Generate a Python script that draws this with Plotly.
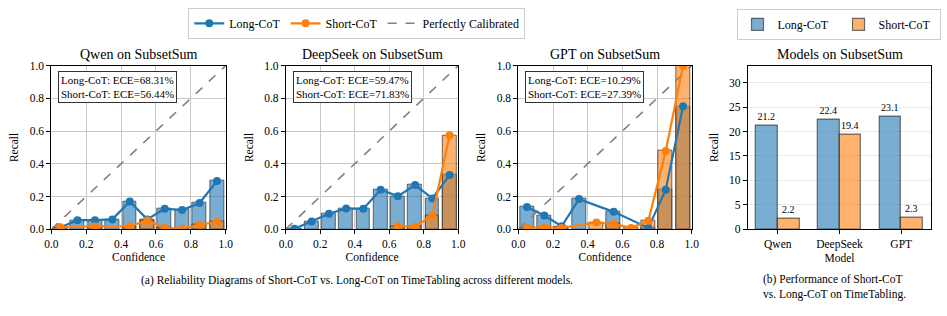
import plotly.graph_objects as go

# ---------------- data ----------------
bin_centers = [0.05, 0.15, 0.25, 0.35, 0.45, 0.55, 0.65, 0.75, 0.85, 0.95]
panel_titles = ["Qwen on SubsetSum", "DeepSeek on SubsetSum", "GPT on SubsetSum"]

qwen_long = [0.01, 0.055, 0.055, 0.06, 0.17, 0.06, 0.125, 0.117, 0.16, 0.295]
qwen_short = [0.012, None, 0.018, None, 0.018, 0.053, 0.008, 0.003, 0.027, 0.045]
deepseek_long = [0.003, 0.047, 0.094, 0.127, 0.125, 0.241, 0.202, 0.27, 0.188, 0.331]
deepseek_short = [None, None, None, None, None, None, 0.018, 0.016, 0.084, 0.575]
gpt_long = [0.135, 0.084, 0.018, 0.184, None, 0.106, None, 0.008, 0.241, 0.751]
gpt_short = [0.008, 0.012, 0.008, None, 0.041, 0.031, 0.008, 0.051, 0.478, 1.0]

ece_long = [68.31, 59.47, 10.29]
ece_short = [56.44, 71.83, 27.39]

models = ["Qwen", "DeepSeek", "GPT"]
model_pos = [0, 1, 2]
perf_long = [21.2, 22.4, 23.1]
perf_short = [2.2, 19.4, 2.3]

diag = [0.0, 1.0]
rel_ticks = [0.0, 0.2, 0.4, 0.6, 0.8, 1.0]
perf_ticks = [0, 5, 10, 15, 20, 25, 30]

# ---------------- style ----------------
W, H = 947, 316
FONT = "Liberation Serif"
BLUE = "#1f77b4"
ORANGE = "#ff7f0e"
BLUE_FILL = "rgba(31,119,180,0.6)"
ORANGE_FILL = "rgba(255,127,14,0.6)"
EDGE = "rgba(40,40,40,0.65)"


def px_x(p):
    return p / W


def px_y(p):
    return 1 - p / H


panel_x = [(45, 222), (283, 458), (519, 695)]
bar_x = (752, 938)
plot_y = (62, 232)
ydom = [px_y(plot_y[1]), px_y(plot_y[0])]

fig = go.Figure()

longs = [qwen_long, deepseek_long, gpt_long]
shorts = [qwen_short, deepseek_short, gpt_short]

for i in range(3):
    xa = "x" if i == 0 else f"x{i+1}"
    ya = "y" if i == 0 else f"y{i+1}"
    first = i == 0
    fig.add_trace(go.Bar(x=bin_centers, y=longs[i], width=0.08, marker=dict(color=BLUE_FILL, line=dict(color=EDGE, width=1)),
                         xaxis=xa, yaxis=ya, showlegend=False, hoverinfo="skip"))
    fig.add_trace(go.Bar(x=bin_centers, y=shorts[i], width=0.08, marker=dict(color=ORANGE_FILL, line=dict(color=EDGE, width=1)),
                         xaxis=xa, yaxis=ya, showlegend=False, hoverinfo="skip"))
    fig.add_trace(go.Scatter(x=diag, y=diag, mode="lines", line=dict(color="#808080", width=1.6, dash="dash"),
                             name="Perfectly Calibrated", legend="legend", legendrank=3,
                             xaxis=xa, yaxis=ya, showlegend=first))
    fig.add_trace(go.Scatter(x=bin_centers, y=longs[i], mode="lines+markers", connectgaps=True,
                             line=dict(color=BLUE, width=2.2), marker=dict(color=BLUE, size=8),
                             name="Long-CoT", legend="legend", legendrank=1,
                             xaxis=xa, yaxis=ya, showlegend=first))
    fig.add_trace(go.Scatter(x=bin_centers, y=shorts[i], mode="lines+markers", connectgaps=True,
                             line=dict(color=ORANGE, width=2.2), marker=dict(color=ORANGE, size=8),
                             name="Short-CoT", legend="legend", legendrank=2,
                             xaxis=xa, yaxis=ya, showlegend=first))

fig.add_trace(go.Bar(x=model_pos, y=perf_long, width=0.35, offset=-0.35, name="Long-CoT",
                     marker=dict(color=BLUE_FILL, line=dict(color=EDGE, width=1.2)),
                     text=[f"{v:.1f}" for v in perf_long], textposition="outside", cliponaxis=False,
                     textfont=dict(size=10, family=FONT, color="black"),
                     xaxis="x4", yaxis="y4", legend="legend2"))
fig.add_trace(go.Bar(x=model_pos, y=perf_short, width=0.35, offset=0.0, name="Short-CoT",
                     marker=dict(color=ORANGE_FILL, line=dict(color=EDGE, width=1.2)),
                     text=[f"{v:.1f}" for v in perf_short], textposition="outside", cliponaxis=False,
                     textfont=dict(size=10, family=FONT, color="black"),
                     xaxis="x4", yaxis="y4", legend="legend2"))

axis_common = dict(showline=True, linecolor="black", linewidth=1, mirror=True, ticks="outside",
                   ticklen=4, tickcolor="black", zeroline=False,
                   tickfont=dict(size=11.5, family=FONT, color="black"))

layout = dict(
    width=W, height=H, margin=dict(l=0, r=0, t=0, b=0),
    paper_bgcolor="white", plot_bgcolor="white",
    barmode="overlay", bargap=0,
    font=dict(family=FONT, color="black", size=11),
    annotations=[],
)

for i in range(3):
    sx = "" if i == 0 else str(i + 1)
    x0, x1 = panel_x[i]
    layout["xaxis" + sx] = dict(axis_common, domain=[px_x(x0), px_x(x1)], range=[0, 1], tickvals=rel_ticks,
                                tickformat=".1f", showgrid=True, gridcolor="#c8c8c8", gridwidth=1,
                                anchor="y" + sx,
                                title=dict(text="Confidence", font=dict(size=11.5, family=FONT), standoff=3))
    layout["yaxis" + sx] = dict(axis_common, domain=ydom, range=[0, 1], tickvals=rel_ticks, tickformat=".1f",
                                showgrid=True, gridcolor="#c8c8c8", gridwidth=1, anchor="x" + sx,
                                title=dict(text="Recall", font=dict(size=11.5, family=FONT), standoff=8))
    layout["annotations"].append(dict(
        text=panel_titles[i], xref="paper", yref="paper", x=px_x((x0 + x1) / 2), y=px_y(50),
        xanchor="center", yanchor="middle", showarrow=False, font=dict(size=14, family=FONT)))
    layout["annotations"].append(dict(
        text=f"Long-CoT: ECE={ece_long[i]:.2f}%<br>Short-CoT: ECE={ece_short[i]:.2f}%",
        xref=f"x{sx} domain", yref=f"y{sx} domain", x=0.04, y=0.965, xanchor="left", yanchor="top",
        align="left", showarrow=False, font=dict(size=11, family=FONT),
        bgcolor="white", bordercolor="#333333", borderwidth=1, borderpad=2))

layout["xaxis4"] = dict(axis_common, domain=[px_x(bar_x[0]), px_x(bar_x[1])], range=[-0.485, 2.485],
                        tickvals=model_pos, ticktext=models, showgrid=False, anchor="y4",
                        title=dict(text="Model", font=dict(size=11.5, family=FONT), standoff=3))
layout["yaxis4"] = dict(axis_common, domain=ydom, range=[0, 33.5], tickvals=perf_ticks, showgrid=True,
                        gridcolor="#ebebeb", gridwidth=1, anchor="x4",
                        title=dict(text="Recall", font=dict(size=11.5, family=FONT), standoff=8))
layout["annotations"].append(dict(
    text="Models on SubsetSum", xref="paper", yref="paper", x=px_x(sum(bar_x) / 2), y=px_y(50),
    xanchor="center", yanchor="middle", showarrow=False, font=dict(size=14, family=FONT)))

layout["annotations"].append(dict(
    text="(a) Reliability Diagrams of Short-CoT vs. Long-CoT on TimeTabling across different models.",
    xref="paper", yref="paper", x=px_x(355), y=px_y(285), xanchor="center", yanchor="middle",
    showarrow=False, font=dict(size=11.5, family=FONT)))
layout["annotations"].append(dict(
    text="(b) Performance of Short-CoT<br>vs. Long-CoT on TimeTabling.",
    xref="paper", yref="paper", x=px_x(765), y=px_y(292), xanchor="left", yanchor="middle", align="left",
    showarrow=False, font=dict(size=11.5, family=FONT)))

layout["legend"] = dict(orientation="h", x=px_x(355), y=px_y(18), xanchor="center", yanchor="middle",
                        bgcolor="white", bordercolor="#cccccc", borderwidth=1,
                        font=dict(size=12, family=FONT), itemwidth=30, traceorder="normal")
layout["legend2"] = dict(orientation="h", x=px_x(844), y=px_y(19), xanchor="center", yanchor="middle",
                         bgcolor="white", bordercolor="#cccccc", borderwidth=1,
                         font=dict(size=12, family=FONT), itemwidth=30, entrywidth=56)

fig.update_layout(**layout)
fig.write_html("out.html", config={"displayModeBar": False},
               post_script="document.body.style.margin='0px';document.body.style.overflow='hidden';")
